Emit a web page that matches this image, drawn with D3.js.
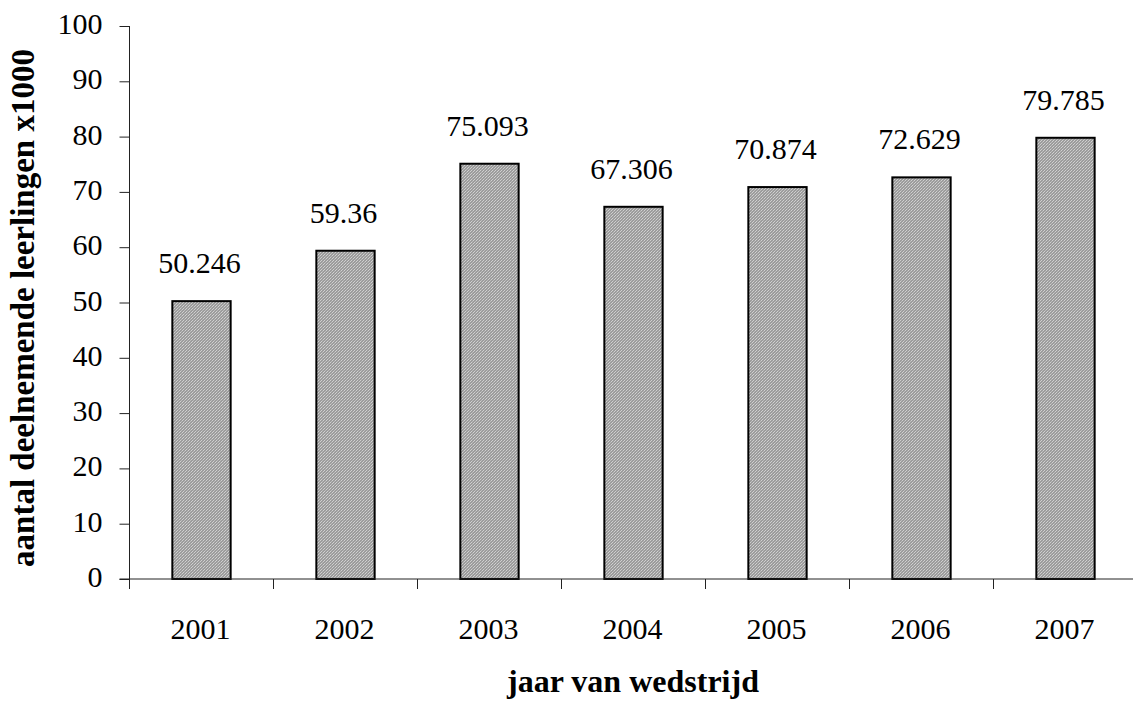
<!DOCTYPE html>
<html>
<head>
<meta charset="utf-8">
<script src="https://cdn.jsdelivr.net/npm/d3@7"></script>
<style>
  body { margin: 0; background: #fff; }
  svg text { font-family: 'Liberation Serif', 'Times New Roman', serif !important; }
</style>
</head>
<body>
<svg id="chart"></svg>
<script>
var years = ["2001", "2002", "2003", "2004", "2005", "2006", "2007"];
var leerlingen = [50.246, 59.36, 75.093, 67.306, 70.874, 72.629, 79.785];
var yTicks = [0, 10, 20, 30, 40, 50, 60, 70, 80, 90, 100];
var xTitle = "jaar van wedstrijd";
var yTitle = "aantal deelnemende leerlingen x1000";

var width = 1133, height = 708;
var margin = { top: 26, left: 129.5, bottom: 129 };

var svg = d3.select("#chart")
    .attr("width", width)
    .attr("height", height);

svg.append("rect")
    .attr("width", width)
    .attr("height", height)
    .attr("fill", "#fff");

// fine grey texture for the bars
var pat = svg.append("defs").append("pattern")
    .attr("id", "hatch")
    .attr("patternUnits", "userSpaceOnUse")
    .attr("width", 3)
    .attr("height", 3);
pat.append("rect").attr("width", 3).attr("height", 3).attr("fill", "#9c9c9c");
pat.append("rect").attr("x", 0).attr("y", 2).attr("width", 1).attr("height", 1).attr("fill", "#d0d0d0");
pat.append("rect").attr("x", 1).attr("y", 1).attr("width", 1).attr("height", 1).attr("fill", "#bdbdbd");
pat.append("rect").attr("x", 2).attr("y", 0).attr("width", 1).attr("height", 1).attr("fill", "#d0d0d0");

var data = years.map(function (y, i) { return { year: y, value: leerlingen[i] }; });

var x = d3.scaleBand()
    .domain(years)
    .range([margin.left, margin.left + 7 * 144])
    .padding(0);

var y = d3.scaleLinear()
    .domain([0, 100])
    .range([height - margin.bottom, margin.top]);

var barW = x.bandwidth() * 0.405;

// bars
svg.selectAll(".bar")
    .data(data)
    .enter().append("rect")
    .attr("class", "bar")
    .attr("x", function (d) { return x(d.year) + (x.bandwidth() - barW) / 2; })
    .attr("y", function (d) { return y(d.value); })
    .attr("width", barW)
    .attr("height", function (d) { return y(0) - y(d.value); })
    .attr("fill", "url(#hatch)")
    .attr("stroke", "#000")
    .attr("stroke-width", 2);

// value labels
svg.selectAll(".val")
    .data(data)
    .enter().append("text")
    .attr("class", "val")
    .attr("x", function (d) { return x(d.year) + x.bandwidth() / 2 - 2; })
    .attr("y", function (d) { return y(d.value) - 28; })
    .attr("text-anchor", "middle")
    .attr("font-size", 30)
    .attr("fill", "#000")
    .text(function (d) { return d.value; });

// y axis
var yAxis = svg.append("g")
    .attr("transform", "translate(" + margin.left + ",0)")
    .attr("font-family", null)
    .call(d3.axisLeft(y).tickValues(yTicks).tickSize(10).tickPadding(17));
yAxis.attr("font-family", "Liberation Serif");
yAxis.select(".domain").attr("d", "M0," + y(100) + "V" + y(0));
yAxis.selectAll("line, path").attr("stroke", "#222");
yAxis.selectAll("text")
    .attr("font-size", 30)
    .attr("fill", "#000")
    .attr("dy", "0.25em");

// x axis: line, ticks on category boundaries, labels centred
var xAxis = svg.append("g")
    .attr("transform", "translate(0," + y(0) + ")");
xAxis.append("line")
    .attr("x1", margin.left - 10)
    .attr("x2", width)
    .attr("stroke", "#222");
xAxis.selectAll(".xt")
    .data(years)
    .enter().append("line")
    .attr("class", "xt")
    .attr("x1", function (d) { return Math.round(x(d)) - 0.5; })
    .attr("x2", function (d) { return Math.round(x(d)) - 0.5; })
    .attr("y1", 0)
    .attr("y2", 10)
    .attr("stroke", "#222");
xAxis.selectAll(".xl")
    .data(years)
    .enter().append("text")
    .attr("class", "xl")
    .attr("x", function (d) { return x(d) + x.bandwidth() / 2 - 1; })
    .attr("y", 60)
    .attr("text-anchor", "middle")
    .attr("font-size", 30)
    .attr("fill", "#000")
    .text(function (d) { return d; });

// titles
svg.append("text")
    .attr("x", 633)
    .attr("y", 692)
    .attr("text-anchor", "middle")
    .attr("font-size", 32)
    .attr("font-weight", "bold")
    .text(xTitle);

svg.append("text")
    .attr("transform", "translate(34,308) rotate(-90)")
    .attr("text-anchor", "middle")
    .attr("font-size", 33)
    .attr("font-weight", "bold")
    .text(yTitle);
</script>
</body>
</html>
